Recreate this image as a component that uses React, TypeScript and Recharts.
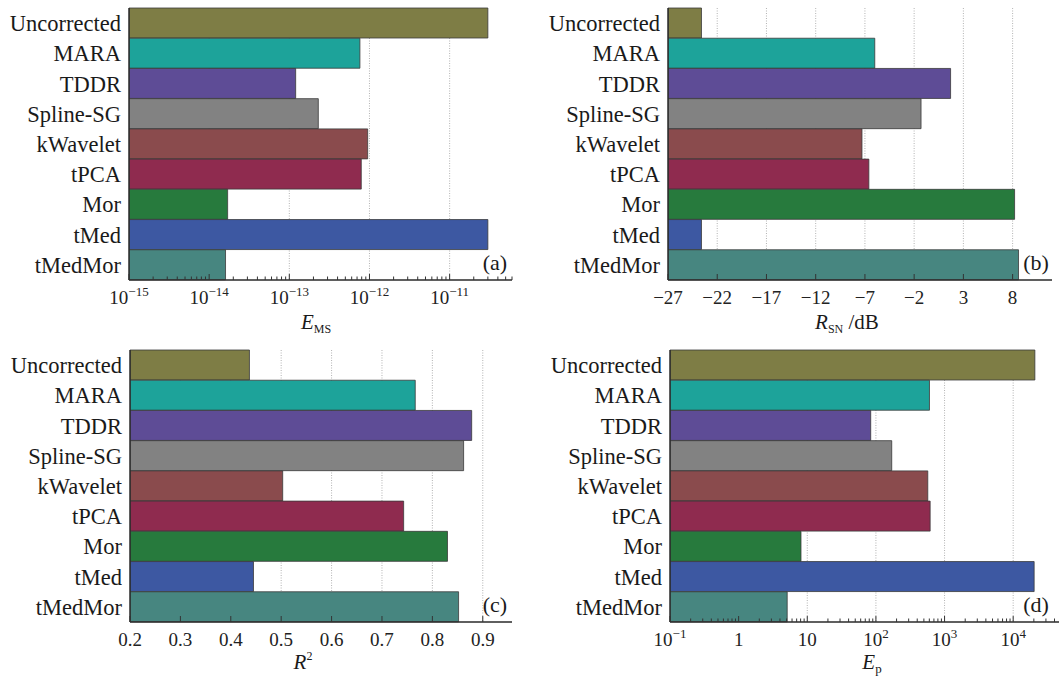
import React from "react";
import { BarChart, Bar, XAxis, YAxis, CartesianGrid, Cell } from "recharts";

const FONT = '"Liberation Serif", "DejaVu Serif", serif';

const methods = [
  "Uncorrected",
  "MARA",
  "TDDR",
  "Spline-SG",
  "kWavelet",
  "tPCA",
  "Mor",
  "tMed",
  "tMedMor",
];
const colors = [
  "#7e7d45",
  "#1da39a",
  "#5e4c96",
  "#828282",
  "#8a4b4d",
  "#8f2b4f",
  "#277a3d",
  "#3d58a2",
  "#478680",
];

// (a) E_MS, log scale
const emsValues = [3.0e-11, 7.6e-13, 1.2e-13, 2.3e-13, 9.5e-13, 7.9e-13, 1.7e-14, 3.0e-11, 1.6e-14];
const emsMajor = [1e-15, 1e-14, 1e-13, 1e-12, 1e-11];
const emsLabels = [["10", "−15"], ["10", "−14"], ["10", "−13"], ["10", "−12"], ["10", "−11"]];
const emsDomain = [1e-15, 6e-11];

// (b) R_SN / dB, linear
const rsnValues = [-23.6, -6.0, 1.7, -1.3, -7.3, -6.6, 8.2, -23.6, 8.6];
const rsnTicks = [-27, -22, -17, -12, -7, -2, 3, 8];
const rsnLabels = ["−27", "−22", "−17", "−12", "−7", "−2", "3", "8"];
const rsnDomain = [-27, 12];

// (c) R^2, linear
const r2Values = [0.437, 0.766, 0.878, 0.862, 0.503, 0.743, 0.83, 0.445, 0.852];
const r2Ticks = [0.2, 0.3, 0.4, 0.5, 0.6, 0.7, 0.8, 0.9];
const r2Labels = ["0.2", "0.3", "0.4", "0.5", "0.6", "0.7", "0.8", "0.9"];
const r2Domain = [0.2, 0.958];

// (d) E_p, log scale
const epValues = [2.07e4, 603, 84, 170, 570, 617, 8.1, 2.02e4, 5.1];
const epMajor = [0.1, 1, 10, 100, 1000, 10000];
const epLabels = [["10", "−1"], ["1", ""], ["10", ""], ["10", "2"], ["10", "3"], ["10", "4"]];
const epDomain = [0.1, 5.5e4];

function withMinors(majors: number[], max: number) {
  const out: number[] = [];
  majors.forEach((m) => {
    out.push(m);
    for (let k = 2; k <= 9; k++) if (k * m <= max) out.push(k * m);
  });
  return out;
}

function makeTick(majors: number[], labels: string[][], minorLen: number) {
  return (props: any) => {
    const { x, y, payload } = props;
    const idx = majors.indexOf(payload.value);
    const major = idx >= 0;
    return (
      <g>
        <line x1={x} x2={x} y1={y} y2={y - (major ? 6 : minorLen)} stroke="#333" strokeWidth={1} />
        {major && (
          <text x={x} y={y + 24} textAnchor="middle" style={{ fontFamily: FONT }} fontSize={19} fill="#222">
            {labels[idx][0]}
            {labels[idx][1] && (
              <tspan dy={-8} fontSize={13}>
                {labels[idx][1]}
              </tspan>
            )}
          </text>
        )}
      </g>
    );
  };
}

type PanelProps = {
  left: number;
  top: number;
  width: number;
  height: number;
  margin: { top: number; right: number; bottom: number; left: number };
  yWidth: number;
  xHeight: number;
  values: number[];
  base?: number;
  domain: number[];
  log?: boolean;
  ticks: number[];
  majors: number[];
  labels: string[][];
  grid: number[];
};

function Panel(p: PanelProps) {
  const data = methods.map((name, i) => ({ name, v: p.values[i] }));
  const scale = p.log ? "log" : "linear";
  const dataKey =
    p.base !== undefined ? (d: any) => [p.base as number, d.v] : "v";
  return (
    <div style={{ position: "absolute", left: p.left, top: p.top }}>
      <BarChart
        width={p.width}
        height={p.height}
        data={data}
        layout="vertical"
        margin={p.margin}
        barCategoryGap={0}
      >
        <CartesianGrid
          horizontal={false}
          verticalValues={p.grid}
          stroke="#a0a0a0"
          strokeDasharray="1 1.5"
          strokeWidth={0.8}
        />
        <XAxis
          type="number"
          scale={scale}
          domain={p.domain}
          allowDataOverflow
          ticks={p.ticks}
          interval={0}
          tickSize={0}
          tickMargin={0}
          height={p.xHeight}
          axisLine={{ stroke: "#2a2a2a", strokeWidth: 1.5 }}
          tickLine={false}
          tick={makeTick(p.majors, p.labels, p.log ? 3.5 : 6)}
        />
        <XAxis
          xAxisId="top"
          orientation="top"
          type="number"
          scale={scale}
          domain={p.domain}
          allowDataOverflow
          height={0}
          tick={false}
          tickLine={false}
          axisLine={{ stroke: "#444", strokeWidth: 1.2 }}
        />
        <YAxis
          type="category"
          dataKey="name"
          width={p.yWidth}
          interval={0}
          tickLine={false}
          tickSize={0}
          tickMargin={8}
          axisLine={{ stroke: "#2a2a2a", strokeWidth: 1.5 }}
          tick={{ fontFamily: FONT, fontSize: 22.5, fill: "#1a1a1a" }}
        />
        <YAxis
          yAxisId="right"
          orientation="right"
          type="category"
          dataKey="name"
          width={0}
          tick={false}
          tickLine={false}
          axisLine={{ stroke: "#444", strokeWidth: 1.2 }}
        />
        <Bar dataKey={dataKey as any} isAnimationActive={false} stroke="#3a3a3a" strokeWidth={0.8}>
          {data.map((d, i) => (
            <Cell key={d.name} fill={colors[i]} />
          ))}
        </Bar>
      </BarChart>
    </div>
  );
}

export default function App() {
  const emsTicks = withMinors(emsMajor, emsDomain[1]);
  const epTicks = withMinors(epMajor, epDomain[1]);
  const textStyle = { style: { fontFamily: FONT }, fill: "#1a1a1a" };
  return (
    <div
      style={{
        position: "fixed",
        left: 0,
        top: 0,
        width: 1059,
        height: 678,
        overflow: "hidden",
        background: "#fff",
      }}
    >
      <Panel
        left={0}
        top={0}
        width={530}
        height={340}
        margin={{ top: 8, right: 18, bottom: 0, left: 0 }}
        yWidth={129}
        xHeight={60}
        values={emsValues}
        domain={emsDomain}
        log
        ticks={emsTicks}
        majors={emsMajor}
        labels={emsLabels}
        grid={emsMajor.slice(1)}
      />
      <Panel
        left={530}
        top={0}
        width={529}
        height={340}
        margin={{ top: 8, right: 7, bottom: 0, left: 0 }}
        yWidth={138}
        xHeight={60}
        values={rsnValues}
        base={rsnDomain[0]}
        domain={rsnDomain}
        ticks={rsnTicks}
        majors={rsnTicks}
        labels={rsnLabels.map((s) => [s, ""])}
        grid={rsnTicks.slice(1)}
      />
      <Panel
        left={0}
        top={340}
        width={530}
        height={338}
        margin={{ top: 10, right: 18, bottom: 0, left: 0 }}
        yWidth={130}
        xHeight={56}
        values={r2Values}
        domain={r2Domain}
        ticks={r2Ticks}
        majors={r2Ticks}
        labels={r2Labels.map((s) => [s, ""])}
        grid={r2Ticks.slice(1)}
      />
      <Panel
        left={530}
        top={340}
        width={540}
        height={338}
        margin={{ top: 10, right: 6, bottom: 0, left: 0 }}
        yWidth={140}
        xHeight={56}
        values={epValues}
        domain={epDomain}
        log
        ticks={epTicks}
        majors={epMajor}
        labels={epLabels}
        grid={epMajor.slice(1)}
      />
      <svg
        width={1059}
        height={678}
        style={{ position: "absolute", left: 0, top: 0, pointerEvents: "none" }}
      >
        <text x={316} y={329} textAnchor="middle" fontSize={21} {...textStyle}>
          <tspan fontStyle="italic">E</tspan>
          <tspan fontSize={12} dy={4}>MS</tspan>
        </text>
        <text x={847} y={329} textAnchor="middle" fontSize={21} {...textStyle}>
          <tspan fontStyle="italic">R</tspan>
          <tspan fontSize={12} dy={4}>SN</tspan>
          <tspan dy={-4}> /dB</tspan>
        </text>
        <text x={303} y={669} textAnchor="middle" fontSize={21} {...textStyle}>
          <tspan fontStyle="italic">R</tspan>
          <tspan fontSize={12} dy={-9}>2</tspan>
        </text>
        <text x={872} y={669} textAnchor="middle" fontSize={21} {...textStyle}>
          <tspan fontStyle="italic">E</tspan>
          <tspan fontSize={13} dy={4}>p</tspan>
        </text>
        <text x={495} y={270} textAnchor="middle" fontSize={22} {...textStyle}>(a)</text>
        <text x={1036} y={270} textAnchor="middle" fontSize={22} {...textStyle}>(b)</text>
        <text x={495} y={612} textAnchor="middle" fontSize={22} {...textStyle}>(c)</text>
        <text x={1036} y={612} textAnchor="middle" fontSize={22} {...textStyle}>(d)</text>
      </svg>
    </div>
  );
}
